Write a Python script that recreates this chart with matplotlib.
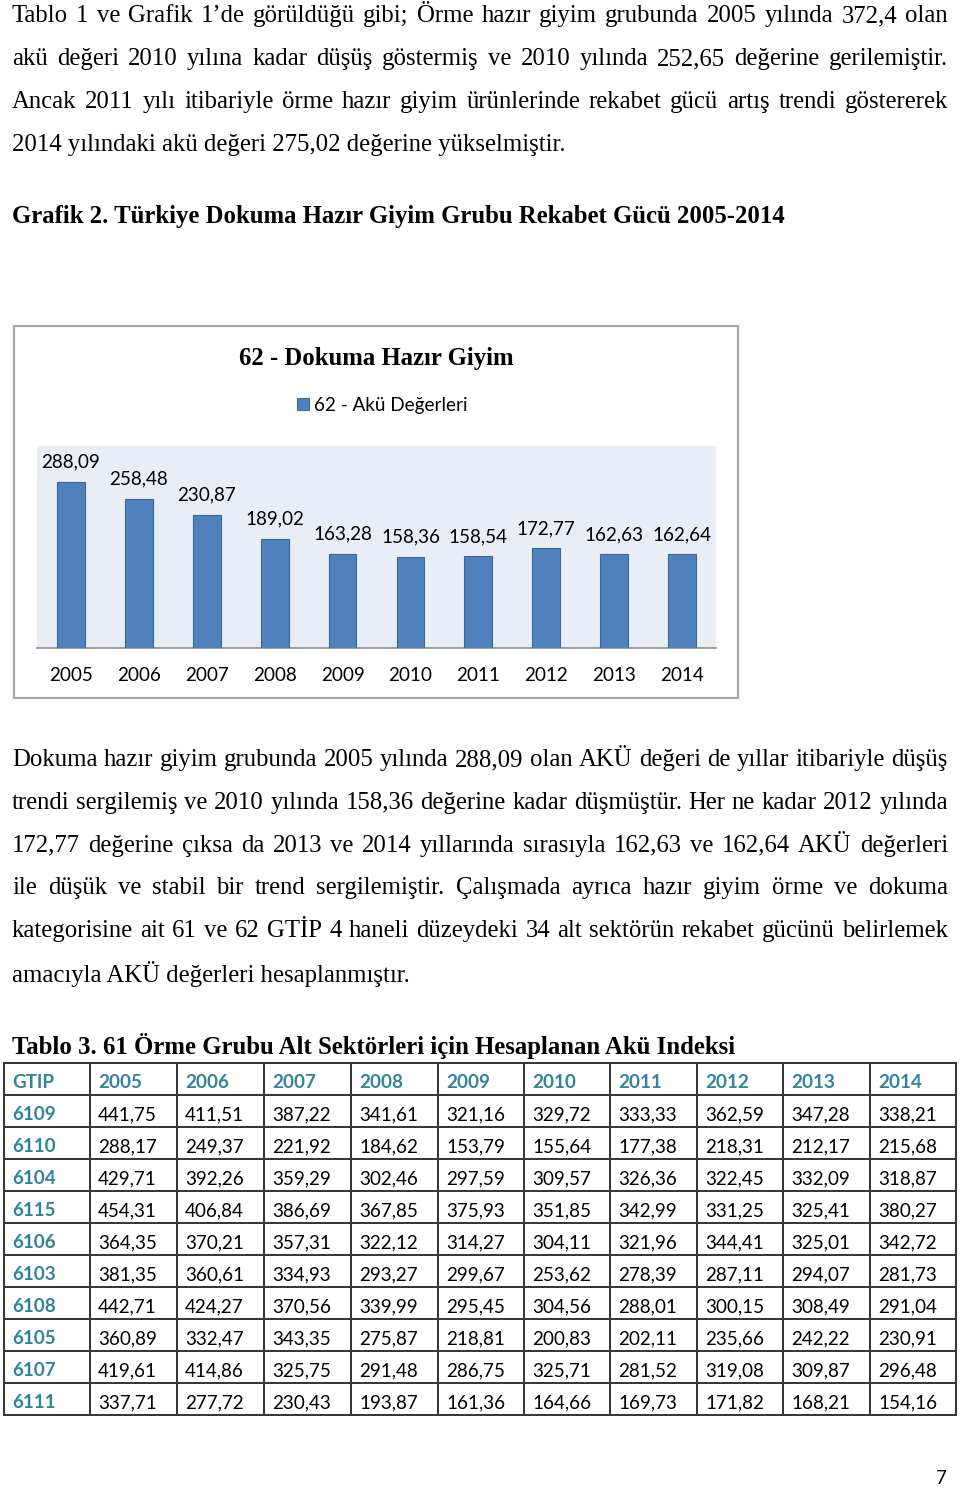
import matplotlib.pyplot as plt
from matplotlib.patches import Rectangle

# sayfa metinleri
para1 = [
    "Tablo 1 ve Grafik 1’de görüldüğü gibi; Örme hazır giyim grubunda 2005 yılında 372,4 olan",
    "akü değeri 2010 yılına kadar düşüş göstermiş ve 2010 yılında 252,65 değerine gerilemiştir.",
    "Ancak 2011 yılı itibariyle örme hazır giyim ürünlerinde rekabet gücü artış trendi göstererek",
    "2014 yılındaki akü değeri 275,02 değerine yükselmiştir.",
]
heading = "Grafik 2. Türkiye Dokuma Hazır Giyim Grubu Rekabet Gücü 2005-2014"
para2 = [
    "Dokuma hazır giyim grubunda 2005 yılında 288,09 olan AKÜ değeri de yıllar itibariyle düşüş",
    "trendi sergilemiş ve 2010 yılında 158,36 değerine kadar düşmüştür. Her ne kadar 2012 yılında",
    "172,77 değerine çıksa da 2013 ve 2014 yıllarında sırasıyla 162,63 ve 162,64 AKÜ değerleri",
    "ile düşük ve stabil bir trend sergilemiştir. Çalışmada ayrıca hazır giyim örme ve dokuma",
    "kategorisine ait 61 ve 62 GTİP 4 haneli düzeydeki 34 alt sektörün rekabet gücünü belirlemek",
    "amacıyla AKÜ değerleri hesaplanmıştır.",
]
table_title = "Tablo 3. 61 Örme Grubu Alt Sektörleri için Hesaplanan Akü Indeksi"

# grafik verisi
chart_title = "62 - Dokuma Hazır Giyim"
legend_label = "62 - Akü Değerleri"
years = ["2005", "2006", "2007", "2008", "2009", "2010", "2011", "2012", "2013", "2014"]
aku_62 = [288.09, 258.48, 230.87, 189.02, 163.28, 158.36, 158.54, 172.77, 162.63, 162.64]

# tablo verisi
gtip = ["6109", "6110", "6104", "6115", "6106", "6103", "6108", "6105", "6107", "6111"]
table_values = [
    [441.75, 411.51, 387.22, 341.61, 321.16, 329.72, 333.33, 362.59, 347.28, 338.21],
    [288.17, 249.37, 221.92, 184.62, 153.79, 155.64, 177.38, 218.31, 212.17, 215.68],
    [429.71, 392.26, 359.29, 302.46, 297.59, 309.57, 326.36, 322.45, 332.09, 318.87],
    [454.31, 406.84, 386.69, 367.85, 375.93, 351.85, 342.99, 331.25, 325.41, 380.27],
    [364.35, 370.21, 357.31, 322.12, 314.27, 304.11, 321.96, 344.41, 325.01, 342.72],
    [381.35, 360.61, 334.93, 293.27, 299.67, 253.62, 278.39, 287.11, 294.07, 281.73],
    [442.71, 424.27, 370.56, 339.99, 295.45, 304.56, 288.01, 300.15, 308.49, 291.04],
    [360.89, 332.47, 343.35, 275.87, 218.81, 200.83, 202.11, 235.66, 242.22, 230.91],
    [419.61, 414.86, 325.75, 291.48, 286.75, 325.71, 281.52, 319.08, 309.87, 296.48],
    [337.71, 277.72, 230.43, 193.87, 161.36, 164.66, 169.73, 171.82, 168.21, 154.16],
]


def tr(v):
    return f"{v:.2f}".replace(".", ",")


SERIF = "Liberation Serif"
SANS = "Lato"
BLUE = "#4F81BD"
TEAL = "#31849B"
FS_SERIF = 17.8
FS_SANS = 13.6

W, H = 960, 1488
fig = plt.figure(figsize=(9.6, 14.88), dpi=100)
page = fig.add_axes([0, 0, 1, 1])
page.set_xlim(0, W)
page.set_ylim(H, 0)
page.axis("off")
renderer = fig.canvas.get_renderer()


def justify_line(text, y, last=False, x0=12, x1=948, **kw):
    if last:
        page.text(x0, y, text, va="center", ha="left", **kw)
        return
    words = text.split(" ")
    objs = [page.text(0, y, w, va="center", ha="left", **kw) for w in words]
    widths = [o.get_window_extent(renderer).width for o in objs]
    gap = (x1 - x0 - sum(widths)) / (len(words) - 1)
    x = x0
    for o, w in zip(objs, widths):
        o.set_x(x)
        x += w + gap


body = dict(family=SERIF, fontsize=FS_SERIF, color="black")
for i, line in enumerate(para1):
    justify_line(line, 16 + 43 * i, last=(i == len(para1) - 1), **body)

page.text(12, 216, heading, va="center", ha="left", family=SERIF, fontsize=FS_SERIF, fontweight="bold")

for i, line in enumerate(para2):
    justify_line(line, 760 + 42.8 * i, last=(i == len(para2) - 1), **body)

page.text(12, 1046, table_title, va="center", ha="left", family=SERIF, fontsize=FS_SERIF, fontweight="bold")

# grafik çerçevesi
page.add_patch(Rectangle((14, 326), 724, 372, facecolor="white", edgecolor="#A6A6A6", lw=1.6, zorder=1))
page.text(376, 359, chart_title, va="center", ha="center", family=SERIF, fontsize=FS_SERIF, fontweight="bold")
page.add_patch(Rectangle((297, 398), 12, 12, facecolor=BLUE, edgecolor="#3A679C", lw=0.8, zorder=2))
page.text(314, 405, legend_label, va="center", ha="left", family=SANS, fontsize=FS_SANS)

# bar grafiği
ax = fig.add_axes([37 / W, (H - 648) / H, 679 / W, 202 / H])
ax.set_facecolor("#E9EDF5")
x = range(len(years))
ax.bar(x, aku_62, width=0.41, color=BLUE, edgecolor="#3A679C", linewidth=0.8, zorder=3)
for xi, v in zip(x, aku_62):
    ax.annotate(tr(v), (xi, v), xytext=(0, 8), textcoords="offset points",
                ha="center", va="bottom", family=SANS, fontsize=FS_SANS)
ax.set_xlim(-0.5, len(years) - 0.5)
ax.set_ylim(0, 350)
ax.set_yticks([])
ax.set_xticks(list(x))
ax.set_xticklabels(years, family=SANS, fontsize=FS_SANS)
ax.tick_params(axis="x", length=0, pad=14)
for s in ["top", "left", "right"]:
    ax.spines[s].set_visible(False)
ax.spines["bottom"].set_color("#8C8C8C")
ax.spines["bottom"].set_linewidth(1.2)

# tablo
col_x = [4, 90, 177, 264, 351, 438, 524, 610, 697, 783, 870, 956]
top, row_h = 1063, 32
n_rows = len(gtip) + 1
for cx in col_x:
    page.plot([cx, cx], [top, top + n_rows * row_h], color="#333333", lw=1.4)
for r in range(n_rows + 1):
    page.plot([col_x[0], col_x[-1]], [top + r * row_h] * 2, color="#333333", lw=1.4)

header = ["GTIP"] + years
for c, lab in enumerate(header):
    page.text(col_x[c] + 8, top + row_h / 2 + 4, lab, va="center", ha="left",
              family=SANS, fontsize=FS_SANS, fontweight="bold", color=TEAL)
for r, (code, vals) in enumerate(zip(gtip, table_values)):
    yc = top + (r + 1.5) * row_h + 4
    page.text(col_x[0] + 8, yc, code, va="center", ha="left",
              family=SANS, fontsize=FS_SANS, fontweight="bold", color=TEAL)
    for c, v in enumerate(vals):
        page.text(col_x[c + 1] + 8, yc, tr(v), va="center", ha="left", family=SANS, fontsize=FS_SANS)

page.text(941, 1478, "7", va="center", ha="center", family=SANS, fontsize=FS_SANS)

fig.savefig("out.png", dpi=100)
